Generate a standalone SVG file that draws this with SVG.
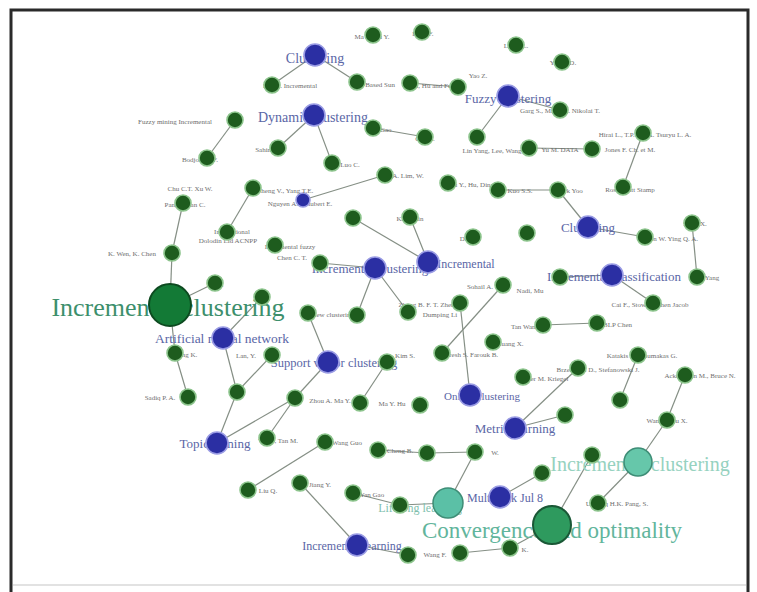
<svg xmlns="http://www.w3.org/2000/svg" width="757" height="592" viewBox="0 0 757 592">
<style>
.e{stroke:#858f85;stroke-width:1.2;fill:none}
.g{fill:#1e5c1e;stroke:#8cc48c;stroke-width:1.6}
.b{fill:#2b2fa3;stroke:#9a9ce4;stroke-width:1.6}
.s{font-family:"Liberation Serif",serif;font-size:7px;fill:#6e6e6e;text-anchor:middle}
.bl{font-family:"Liberation Serif",serif;fill:#5a66a6;text-anchor:middle}
.big{font-family:"Liberation Serif",serif;text-anchor:middle}
</style>
<rect width="757" height="592" fill="#fff"/>
<path d="M11,592 V10 H748 V592" fill="none" stroke="#2a2a2a" stroke-width="3"/>
<line x1="13" y1="585" x2="746" y2="585" stroke="#e2e2e2" stroke-width="2"/>
<g id="connectors">
<line class="e" x1="315" y1="55" x2="272" y2="85"/>
<line class="e" x1="315" y1="55" x2="357" y2="82"/>
<line class="e" x1="410" y1="83" x2="458" y2="87"/>
<line class="e" x1="508" y1="96" x2="477" y2="137"/>
<line class="e" x1="508" y1="96" x2="560" y2="110"/>
<line class="e" x1="235" y1="120" x2="207" y2="158"/>
<line class="e" x1="314" y1="115" x2="278" y2="148"/>
<line class="e" x1="314" y1="115" x2="332" y2="163"/>
<line class="e" x1="373" y1="128" x2="425" y2="137"/>
<line class="e" x1="529" y1="148" x2="592" y2="149"/>
<line class="e" x1="643" y1="133" x2="623" y2="187"/>
<line class="e" x1="253" y1="188" x2="227" y2="232"/>
<line class="e" x1="183" y1="203" x2="172" y2="253"/>
<line class="e" x1="172" y1="253" x2="170" y2="305"/>
<line class="e" x1="170" y1="305" x2="215" y2="283"/>
<line class="e" x1="170" y1="305" x2="175" y2="353"/>
<line class="e" x1="175" y1="353" x2="188" y2="397"/>
<line class="e" x1="303" y1="200" x2="385" y2="175"/>
<line class="e" x1="353" y1="218" x2="428" y2="262"/>
<line class="e" x1="410" y1="217" x2="428" y2="262"/>
<line class="e" x1="375" y1="268" x2="357" y2="315"/>
<line class="e" x1="375" y1="268" x2="408" y2="312"/>
<line class="e" x1="375" y1="268" x2="320" y2="263"/>
<line class="e" x1="308" y1="313" x2="328" y2="362"/>
<line class="e" x1="503" y1="285" x2="442" y2="353"/>
<line class="e" x1="460" y1="303" x2="470" y2="395"/>
<line class="e" x1="612" y1="275" x2="653" y2="303"/>
<line class="e" x1="612" y1="275" x2="560" y2="277"/>
<line class="e" x1="692" y1="223" x2="697" y2="277"/>
<line class="e" x1="588" y1="227" x2="645" y2="237"/>
<line class="e" x1="588" y1="227" x2="558" y2="190"/>
<line class="e" x1="543" y1="325" x2="597" y2="323"/>
<line class="e" x1="638" y1="355" x2="620" y2="400"/>
<line class="e" x1="578" y1="368" x2="515" y2="428"/>
<line class="e" x1="685" y1="375" x2="667" y2="420"/>
<line class="e" x1="667" y1="420" x2="638" y2="462"/>
<line class="e" x1="638" y1="462" x2="598" y2="503"/>
<line class="e" x1="592" y1="455" x2="552" y2="525"/>
<line class="e" x1="542" y1="473" x2="500" y2="497"/>
<line class="e" x1="552" y1="525" x2="510" y2="548"/>
<line class="e" x1="475" y1="452" x2="448" y2="503"/>
<line class="e" x1="448" y1="503" x2="400" y2="505"/>
<line class="e" x1="357" y1="545" x2="300" y2="483"/>
<line class="e" x1="357" y1="545" x2="408" y2="555"/>
<line class="e" x1="460" y1="553" x2="510" y2="548"/>
<line class="e" x1="248" y1="490" x2="325" y2="442"/>
<line class="e" x1="267" y1="438" x2="295" y2="398"/>
<line class="e" x1="217" y1="443" x2="295" y2="398"/>
<line class="e" x1="217" y1="443" x2="237" y2="392"/>
<line class="e" x1="237" y1="392" x2="223" y2="338"/>
<line class="e" x1="223" y1="338" x2="262" y2="297"/>
<line class="e" x1="328" y1="362" x2="295" y2="398"/>
<line class="e" x1="387" y1="362" x2="360" y2="403"/>
<line class="e" x1="378" y1="450" x2="427" y2="453"/>
<line class="e" x1="427" y1="453" x2="475" y2="452"/>
<line class="e" x1="515" y1="428" x2="565" y2="415"/>
<line class="e" x1="272" y1="355" x2="237" y2="392"/>
<line class="e" x1="353" y1="493" x2="400" y2="505"/>
<line class="e" x1="498" y1="190" x2="558" y2="190"/>
</g>
<g id="G1"><text class="big" x="168" y="316" font-size="26" fill="#3d8f6c">Incremental clustering</text><circle cx="170" cy="305" r="21" fill="#137a36" stroke="#0d4a20" stroke-width="2"/></g>
<g id="G2"><text class="big" x="552" y="538" font-size="23" fill="#62b59c">Convergence and optimality</text><circle cx="552" cy="525" r="19" fill="#2e9a5e" stroke="#1a5836" stroke-width="2"/></g>
<g id="T1"><text class="big" x="640" y="471" font-size="20" fill="#96d2c0">Incremental clustering</text><circle cx="638" cy="462" r="14" fill="#66c7aa" stroke="#3e8d76" stroke-width="1.5"/></g>
<g id="T2"><text class="big" x="420" y="512" font-size="12" fill="#7fbfae">Lifelong learning</text><circle cx="448" cy="503" r="15" fill="#5bc0a6" stroke="#3e8d76" stroke-width="1.5"/></g>
<g id="B1"><text class="bl" x="315" y="63" font-size="14">Clustering</text><circle class="b" cx="315" cy="55" r="11"/></g>
<g id="B2"><text class="bl" x="508" y="103" font-size="13">Fuzzy clustering</text><circle class="b" cx="508" cy="96" r="11"/></g>
<g id="B3"><text class="bl" x="313" y="122" font-size="14">Dynamic clustering</text><circle class="b" cx="314" cy="115" r="11"/></g>
<g id="B4"><text class="s" x="300" y="206">Nguyen A. Schubert E.</text><circle class="b" cx="303" cy="200" r="7"/></g>
<g id="B5"><text class="bl" x="588" y="232" font-size="13">Clustering</text><circle class="b" cx="588" cy="227" r="11"/></g>
<g id="B6"><text class="bl" x="370" y="273" font-size="13">Incremental clustering</text><circle class="b" cx="375" cy="268" r="11"/></g>
<g id="B7"><text class="bl" x="466" y="268" font-size="12">Incremental</text><circle class="b" cx="428" cy="262" r="11"/></g>
<g id="B8"><text class="bl" x="614" y="281" font-size="13">Incremental classification</text><circle class="b" cx="612" cy="275" r="11"/></g>
<g id="B9"><text class="bl" x="222" y="343" font-size="13.5" fill="#6a4f9e">Artificial neural network</text><circle class="b" cx="223" cy="338" r="11"/></g>
<g id="B10"><text class="bl" x="334" y="367" font-size="12.5">Support vector clustering</text><circle class="b" cx="328" cy="362" r="11"/></g>
<g id="B11"><text class="bl" x="482" y="400" font-size="11">Online clustering</text><circle class="b" cx="470" cy="395" r="11"/></g>
<g id="B12"><text class="bl" x="515" y="433" font-size="13">Metric learning</text><circle class="b" cx="515" cy="428" r="11"/></g>
<g id="B13"><text class="bl" x="215" y="448" font-size="13">Topic Mining</text><circle class="b" cx="217" cy="443" r="11"/></g>
<g id="B14"><text class="bl" x="505" y="502" font-size="12">Multi-task Jul 8</text><circle class="b" cx="500" cy="497" r="11"/></g>
<g id="B15"><text class="bl" x="352" y="550" font-size="12">Incremental learning</text><circle class="b" cx="357" cy="545" r="11"/></g>
<g id="n1"><text class="s" x="372" y="39">Ma X.  Lu Y.</text><circle class="g" cx="373" cy="35" r="8"/></g>
<g id="n2"><text class="s" x="423" y="36">F. Fr. F.</text><circle class="g" cx="422" cy="32" r="8"/></g>
<g id="n3"><text class="s" x="516" y="48">Lee J. L.</text><circle class="g" cx="516" cy="45" r="8"/></g>
<g id="n4"><text class="s" x="563" y="65">Yan G.D.</text><circle class="g" cx="562" cy="62" r="8"/></g>
<g id="n5"><text class="s" x="290" y="88">Lee G. Incremental</text><circle class="g" cx="272" cy="85" r="8"/></g>
<g id="n6"><text class="s" x="380" y="87">Based Sun</text><circle class="g" cx="357" cy="82" r="8"/></g>
<g id="n7"><text class="s" x="430" y="88">Wu, Hu and Fu</text><circle class="g" cx="410" cy="83" r="8"/></g>
<g id="n8"><text class="s" x="478" y="78">Yao Z.</text><circle class="g" cx="458" cy="87" r="8"/></g>
<g id="n9"><text class="s" x="560" y="113">Garg S., Malik K.   Nikolai T.</text><circle class="g" cx="560" cy="110" r="8"/></g>
<g id="n10"><text class="s" x="175" y="124">Fuzzy mining Incremental</text><circle class="g" cx="235" cy="120" r="8"/></g>
<g id="n11"><text class="s" x="380" y="132">Bel Gao</text><circle class="g" cx="373" cy="128" r="8"/></g>
<g id="n12"><text class="s" x="425" y="141">Gao L.</text><circle class="g" cx="425" cy="137" r="8"/></g>
<g id="n13"><text class="s" x="492" y="153">Lin Yang, Lee, Wang</text><circle class="g" cx="477" cy="137" r="8"/></g>
<g id="n14"><text class="s" x="645" y="137">Hirai L., T.P. Wu   A. Tsuryu L. A.</text><circle class="g" cx="643" cy="133" r="8"/></g>
<g id="n15"><text class="s" x="270" y="152">Sahin E.L.</text><circle class="g" cx="278" cy="148" r="8"/></g>
<g id="n16"><text class="s" x="560" y="152">Yu M. DATA</text><circle class="g" cx="529" cy="148" r="8"/></g>
<g id="n17"><text class="s" x="630" y="152">Jones F.  Ch. et M.</text><circle class="g" cx="592" cy="149" r="8"/></g>
<g id="n18"><text class="s" x="200" y="162">Bodjo   Lee F.</text><circle class="g" cx="207" cy="158" r="8"/></g>
<g id="n19"><text class="s" x="350" y="167">Luo C.</text><circle class="g" cx="332" cy="163" r="8"/></g>
<g id="n20"><text class="s" x="400" y="178">Lam, A.   Lim, W.</text><circle class="g" cx="385" cy="175" r="8"/></g>
<g id="n21"><text class="s" x="470" y="187">Hsu Y., Hu, Ding</text><circle class="g" cx="448" cy="183" r="8"/></g>
<g id="n22"><text class="s" x="520" y="193">Kuo S.S.</text><circle class="g" cx="498" cy="190" r="8"/></g>
<g id="n23"><text class="s" x="570" y="193">Park Yoo</text><circle class="g" cx="558" cy="190" r="8"/></g>
<g id="n24"><text class="s" x="630" y="192">Rosenblatt Stamp</text><circle class="g" cx="623" cy="187" r="8"/></g>
<g id="n25"><text class="s" x="285" y="193">Cheng V., Yang T.E.</text><circle class="g" cx="253" cy="188" r="8"/></g>
<g id="n26"><text class="s" x="190" y="191">Chu C.T. Xu W.</text><text class="s" x="185" y="207">Pang P.      Tan C.</text><circle class="g" cx="183" cy="203" r="8"/></g>
<g id="n27"><text class="s" x="232" y="234">International</text><text class="s" x="228" y="243">Dolodin Lid ACNPP</text><circle class="g" cx="227" cy="232" r="8"/></g>
<g id="n28"><circle class="g" cx="353" cy="218" r="8"/></g>
<g id="n29"><text class="s" x="410" y="221">Kaur Jain</text><circle class="g" cx="410" cy="217" r="8"/></g>
<g id="n30"><text class="s" x="470" y="241">Data Y.</text><circle class="g" cx="473" cy="237" r="8"/></g>
<g id="n31"><circle class="g" cx="527" cy="233" r="8"/></g>
<g id="n32"><text class="s" x="670" y="241">Chen W.  Ying Q. A.</text><circle class="g" cx="645" cy="237" r="8"/></g>
<g id="n33"><text class="s" x="695" y="226">Sha J.X.</text><circle class="g" cx="692" cy="223" r="8"/></g>
<g id="n34"><text class="s" x="132" y="256">K. Wen, K. Chen</text><circle class="g" cx="172" cy="253" r="8"/></g>
<g id="n35"><text class="s" x="290" y="249">Incremental fuzzy</text><circle class="g" cx="275" cy="245" r="8"/></g>
<g id="n36"><text class="s" x="292" y="260">Chen C. T.</text><circle class="g" cx="320" cy="263" r="8"/></g>
<g id="n37"><text class="s" x="480" y="289">Sohail A.</text><circle class="g" cx="503" cy="285" r="8"/></g>
<g id="n38"><text class="s" x="530" y="293">Nadi, Mu</text><circle class="g" cx="560" cy="277" r="8"/></g>
<g id="n39"><text class="s" x="712" y="280">Yang</text><circle class="g" cx="697" cy="277" r="8"/></g>
<g id="n40"><text class="s" x="215" y="287">Sun J.</text><circle class="g" cx="215" cy="283" r="8"/></g>
<g id="n41"><circle class="g" cx="262" cy="297" r="8"/></g>
<g id="n42"><text class="s" x="650" y="307">Cai F., Stow R.   Chen Jacob</text><circle class="g" cx="653" cy="303" r="8"/></g>
<g id="n43"><text class="s" x="432" y="307">Zhang B. F. T.  Zheng Y.</text><circle class="g" cx="460" cy="303" r="8"/></g>
<g id="n44"><text class="s" x="332" y="317">View  clustering</text><circle class="g" cx="308" cy="313" r="8"/></g>
<g id="n45"><circle class="g" cx="357" cy="315" r="8"/></g>
<g id="n46"><text class="s" x="440" y="317">Dumping Li</text><circle class="g" cx="408" cy="312" r="8"/></g>
<g id="n47"><text class="s" x="525" y="329">Tan   Wang</text><circle class="g" cx="543" cy="325" r="8"/></g>
<g id="n48"><text class="s" x="615" y="327">DBLP Chen</text><circle class="g" cx="597" cy="323" r="8"/></g>
<g id="n49"><text class="s" x="185" y="357">Wang K.</text><circle class="g" cx="175" cy="353" r="8"/></g>
<g id="n50"><text class="s" x="246" y="358">Lan, Y.</text><circle class="g" cx="272" cy="355" r="8"/></g>
<g id="n51"><text class="s" x="405" y="358">Kim S.</text><circle class="g" cx="387" cy="362" r="8"/></g>
<g id="n52"><text class="s" x="470" y="357">Suresh S.  Farouk B.</text><circle class="g" cx="442" cy="353" r="8"/></g>
<g id="n53"><text class="s" x="510" y="346">Huang X.</text><circle class="g" cx="493" cy="342" r="8"/></g>
<g id="n54"><text class="s" x="642" y="358">Katakis I., Tsoumakas G.</text><circle class="g" cx="638" cy="355" r="8"/></g>
<g id="n55"><text class="s" x="598" y="372">Brzezinski D., Stefanowski J.</text><circle class="g" cx="578" cy="368" r="8"/></g>
<g id="n56"><text class="s" x="545" y="381">Ester M. Kriegel</text><circle class="g" cx="523" cy="377" r="8"/></g>
<g id="n57"><text class="s" x="700" y="378">Ackermann M., Bruce N.</text><circle class="g" cx="685" cy="375" r="8"/></g>
<g id="n58"><text class="s" x="160" y="400">Sadiq   P. A.</text><circle class="g" cx="188" cy="397" r="8"/></g>
<g id="n59"><circle class="g" cx="237" cy="392" r="8"/></g>
<g id="n60"><text class="s" x="330" y="403">Zhou A. Ma Y.</text><circle class="g" cx="295" cy="398" r="8"/></g>
<g id="n61"><text class="s" x="392" y="406">Ma Y. Hu</text><circle class="g" cx="360" cy="403" r="8"/></g>
<g id="n62"><circle class="g" cx="420" cy="405" r="8"/></g>
<g id="n63"><circle class="g" cx="620" cy="400" r="8"/></g>
<g id="n65"><text class="s" x="568" y="418">Lu</text><circle class="g" cx="565" cy="415" r="8"/></g>
<g id="n66"><text class="s" x="667" y="423">Wang   Zhou X.</text><circle class="g" cx="667" cy="420" r="8"/></g>
<g id="n67"><text class="s" x="278" y="443">Yu H., Tan M.</text><circle class="g" cx="267" cy="438" r="8"/></g>
<g id="n68"><text class="s" x="347" y="445">Wang Guo</text><circle class="g" cx="325" cy="442" r="8"/></g>
<g id="n69"><text class="s" x="400" y="453">Cheng B.</text><circle class="g" cx="378" cy="450" r="8"/></g>
<g id="n70"><circle class="g" cx="427" cy="453" r="8"/></g>
<g id="n71"><text class="s" x="495" y="455">W.</text><circle class="g" cx="475" cy="452" r="8"/></g>
<g id="n72"><circle class="g" cx="592" cy="455" r="8"/></g>
<g id="n73"><circle class="g" cx="542" cy="473" r="8"/></g>
<g id="n74"><text class="s" x="268" y="493">Liu Q.</text><circle class="g" cx="248" cy="490" r="8"/></g>
<g id="n76"><text class="s" x="320" y="487">Jiang Y.</text><circle class="g" cx="300" cy="483" r="8"/></g>
<g id="n77"><text class="s" x="372" y="497">Yan Gao</text><circle class="g" cx="353" cy="493" r="8"/></g>
<g id="n78"><circle class="g" cx="400" cy="505" r="8"/></g>
<g id="n79"><text class="s" x="617" y="506">Ul. Haq  H.K. Pang, S.</text><circle class="g" cx="598" cy="503" r="8"/></g>
<g id="n80"><text class="s" x="435" y="557">Wang F.</text><circle class="g" cx="408" cy="555" r="8"/></g>
<g id="n81"><circle class="g" cx="460" cy="553" r="8"/></g>
<g id="n82"><text class="s" x="525" y="552">K.</text><circle class="g" cx="510" cy="548" r="8"/></g>
</svg>
